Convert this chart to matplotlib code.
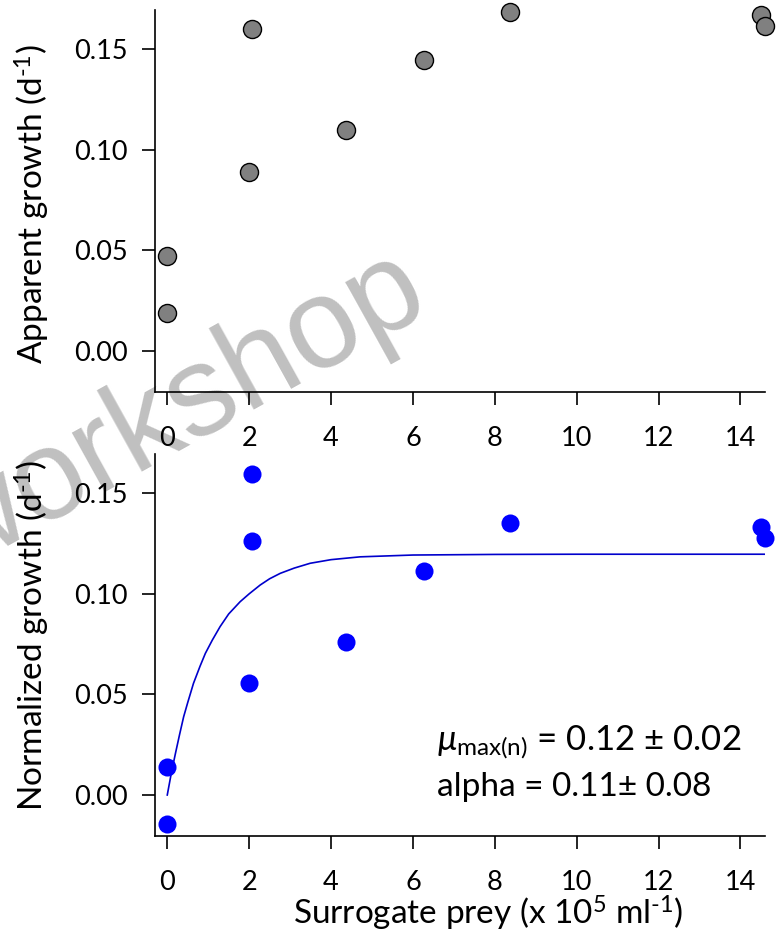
import matplotlib

matplotlib.use("Agg")
import matplotlib.pyplot as plt

plt.rcParams["font.family"] = ["Lato", "DejaVu Sans"]
plt.rcParams["mathtext.fontset"] = "custom"
plt.rcParams["mathtext.rm"] = "Lato"
plt.rcParams["mathtext.it"] = "Lato:italic"

# surrogate prey concentration (x 10^5 ml^-1)
prey_top = [0.0, 0.0, 2.0, 2.07, 4.36, 6.26, 8.37, 14.49, 14.59]
apparent_growth = [0.019, 0.0474, 0.0891, 0.160, 0.1098, 0.1447, 0.1686, 0.1668, 0.1615]

prey_bottom = [0.0, 0.0, 2.0, 2.07, 2.07, 4.36, 6.26, 8.37, 14.49, 14.59]
normalized_growth = [0.0141, -0.0144, 0.0558, 0.1264, 0.1597, 0.0762, 0.1113, 0.1352, 0.1330, 0.1276]

# fitted curve
fit_x = [0.0, 0.1, 0.2, 0.3, 0.4, 0.5, 0.64, 0.8, 0.93, 1.1, 1.29, 1.5, 1.78, 2.0,
         2.27, 2.5, 2.76, 3.1, 3.49, 4.0, 4.71, 6.0, 8.0, 10.0, 12.0, 14.6]
fit_y = [0.0, 0.011, 0.0207, 0.030, 0.0389, 0.046, 0.0555, 0.064, 0.0704, 0.077,
         0.0837, 0.090, 0.0961, 0.100, 0.1044, 0.1075, 0.1102, 0.1128, 0.1152, 0.1170,
         0.1184, 0.1193, 0.1196, 0.1197, 0.1197, 0.1197]

x_ticks = [0, 2, 4, 6, 8, 10, 12, 14]
y_ticks = [0.00, 0.05, 0.10, 0.15]


def style_axis(ax):
    ax.set_facecolor("none")
    ax.spines["top"].set_visible(False)
    ax.spines["right"].set_visible(False)
    for side in ("left", "bottom"):
        ax.spines[side].set_linewidth(1.2)
    ax.set_xlim(-0.3, 14.6)
    ax.set_ylim(-0.0204, 0.1695)
    ax.set_xticks(x_ticks)
    ax.set_yticks(y_ticks)
    ax.set_yticklabels([f"{v:.2f}" for v in y_ticks])
    ax.tick_params(axis="both", direction="out", length=9.5, width=1.2, labelsize=19.5)
    ax.tick_params(axis="x", pad=15)
    ax.tick_params(axis="y", pad=10)


fig = plt.figure(figsize=(7.8, 9.36), dpi=100)
ax1 = fig.add_axes([0.1987, 0.5812, 0.7821, 0.4081])
ax2 = fig.add_axes([0.1987, 0.1068, 0.7821, 0.4081])

fig.text(0.228, 0.558, "workshop", rotation=29, fontsize=92, color="#c0c0c0",
         family=["Liberation Sans Narrow", "Liberation Sans", "DejaVu Sans"],
         ha="center", va="center", zorder=-1)

style_axis(ax1)
ax1.plot(prey_top, apparent_growth, "o", ms=13, mfc="#808080", mec="black", mew=1,
         clip_on=False, zorder=3)
ax1.set_ylabel(r"Apparent growth (d$^{\text{-1}}$)", fontsize=24)
ax1.yaxis.set_label_coords(-0.169, 0.492)

style_axis(ax2)
ax2.plot(fit_x, fit_y, color="#0000cc", lw=1.2, zorder=2)
ax2.plot(prey_bottom, normalized_growth, "o", ms=13, mfc="#0000ff", mec="none",
         clip_on=False, zorder=3)
ax2.set_ylabel(r"Normalized growth (d$^{\text{-1}}$)", fontsize=24)
ax2.yaxis.set_label_coords(-0.169, 0.525)
ax2.set_xlabel(r"Surrogate prey (x 10$^{5}$ ml$^{\text{-1}}$)", fontsize=24, va="baseline")
ax2.xaxis.set_label_coords(0.546, -0.233)

ax2.text(0.462, 0.225, r"$\mu_{\mathrm{max(n)}}$ = 0.12 ± 0.02", transform=ax2.transAxes,
         fontsize=25, ha="left", va="baseline")
ax2.text(0.462, 0.105, "alpha = 0.11± 0.08", transform=ax2.transAxes,
         fontsize=24, ha="left", va="baseline")

fig.savefig("out.png", dpi=100)
